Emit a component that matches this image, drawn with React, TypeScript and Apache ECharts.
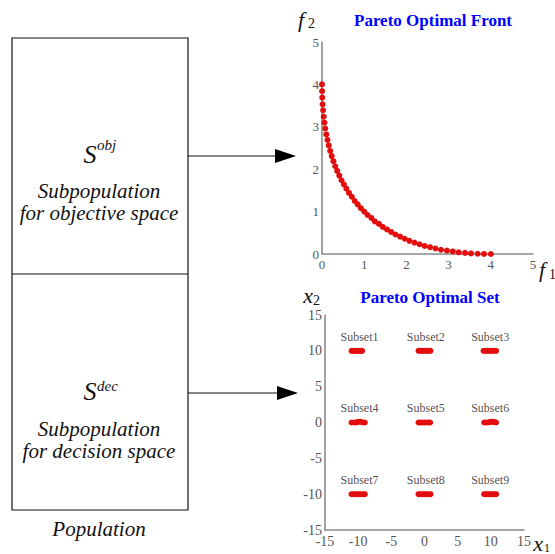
import React, { useEffect, useRef } from "react";
import * as echarts from "echarts";

// Pareto optimal front (objective space)
const frontF1 = [0, 0.002, 0.006, 0.014, 0.026, 0.04, 0.058, 0.078, 0.102, 0.13, 0.16, 0.194, 0.23, 0.27, 0.314, 0.36, 0.41, 0.462, 0.518, 0.578, 0.64, 0.706, 0.774, 0.846, 0.92, 1.0, 1.08, 1.17, 1.25, 1.35, 1.44, 1.54, 1.64, 1.74, 1.85, 1.96, 2.07, 2.19, 2.31, 2.43, 2.56, 2.69, 2.82, 2.96, 3.1, 3.24, 3.39, 3.53, 3.69, 3.84, 4.0];
const frontF2 = [4.0, 3.84, 3.69, 3.53, 3.39, 3.24, 3.1, 2.96, 2.82, 2.69, 2.56, 2.43, 2.31, 2.19, 2.07, 1.96, 1.85, 1.74, 1.64, 1.54, 1.44, 1.35, 1.25, 1.17, 1.08, 1.0, 0.92, 0.85, 0.77, 0.71, 0.64, 0.58, 0.52, 0.46, 0.41, 0.36, 0.31, 0.27, 0.23, 0.19, 0.16, 0.13, 0.1, 0.08, 0.06, 0.04, 0.026, 0.014, 0.006, 0.002, 0];

// Pareto optimal set (decision space), nine subsets
const subsetNames = ["Subset1", "Subset2", "Subset3", "Subset4", "Subset5", "Subset6", "Subset7", "Subset8", "Subset9"];
const subsetLabelX = [-9.8, 0.2, 9.9, -9.8, 0.2, 9.9, -9.8, 0.2, 9.9];
const subsetLabelY = [12, 12, 12, 2, 2, 2, -8, -8, -8];
const subsetX = [
  [-11.0, -10.7, -10.4, -10.2, -9.9, -9.6, -9.4],
  [-0.9, -0.6, -0.3, 0, 0.3, 0.6, 0.9],
  [8.9, 9.2, 9.5, 9.8, 10.1, 10.4, 10.8],
  [-11.0, -10.6, -10.3, -10.0, -9.6, -9.3, -9.0],
  [-0.9, -0.6, -0.3, 0, 0.3, 0.6, 0.85],
  [9.0, 9.3, 9.6, 9.9, 10.2, 10.5, 10.8],
  [-11.0, -10.7, -10.3, -10.0, -9.7, -9.3, -9.0],
  [-0.9, -0.6, -0.3, 0, 0.3, 0.6, 0.9],
  [9.0, 9.3, 9.6, 9.9, 10.2, 10.5, 10.8],
];
const subsetY = [
  [10, 10, 10, 10, 10, 10, 10],
  [10, 10, 10, 10, 10, 10, 10],
  [10, 10, 10, 10, 10, 10, 10],
  [0, 0, 0, 0.1, 0.1, 0, 0],
  [0, 0, 0, 0, 0, 0, 0],
  [0, 0, 0, 0.1, 0.1, 0.1, 0],
  [-10, -10, -10, -10, -10, -10, -10],
  [-10, -10, -10, -10, -10, -10, -10],
  [-10, -10, -10, -10, -10, -10, -10],
];

const SERIF = "'Times New Roman', 'Liberation Serif', Times, 'DejaVu Serif', serif";
const AXIS = "#8a8a8a";
const TICK = "#555";
const RED = "#e30d0d";

function axisCommon(gridIndex: number, min: number, max: number, interval: number, fs: number, isY: boolean) {
  return {
    type: "value",
    gridIndex,
    min,
    max,
    interval,
    axisLine: { show: true, onZero: false, lineStyle: { color: AXIS, width: 1.6 } },
    axisTick: { show: false },
    splitLine: { show: false },
    axisLabel: {
      color: TICK,
      fontFamily: SERIF,
      fontSize: fs,
      margin: isY ? 3 : 4,
    },
  };
}

function txt(text: string, x: number, y: number, size: number, opts: any = {}) {
  return {
    type: "text",
    x,
    y,
    style: {
      text,
      fontFamily: SERIF,
      fontSize: size,
      fontStyle: opts.italic ? "italic" : "normal",
      fontWeight: opts.bold ? "bold" : "normal",
      fill: opts.fill || "#111",
      textAlign: opts.align || "center",
      textVerticalAlign: "middle",
    },
  };
}

export default function App() {
  const ref = useRef<HTMLDivElement>(null);
  useEffect(() => {
    document.body.style.margin = "0";
    const chart = echarts.init(ref.current!, null, { renderer: "svg" });

    const setData: number[][] = [];
    subsetX.forEach((xs, i) => xs.forEach((x, j) => setData.push([x, subsetY[i][j]])));
    const labelData = subsetNames.map((n, i) => ({ name: n, value: [subsetLabelX[i], subsetLabelY[i]] }));
    const I = { italic: true };

    chart.setOption({
      animation: false,
      backgroundColor: "#fff",
      grid: [
        { left: 322, top: 42, width: 211, height: 212 },
        { left: 325, top: 315, width: 199, height: 215 },
      ],
      xAxis: [axisCommon(0, 0, 5, 1, 13, false), axisCommon(1, -15, 15, 5, 14, false)],
      yAxis: [axisCommon(0, 0, 5, 1, 13, true), axisCommon(1, -15, 15, 5, 14, true)],
      series: [
        {
          type: "scatter",
          xAxisIndex: 0,
          yAxisIndex: 0,
          symbolSize: 6,
          itemStyle: { color: RED, opacity: 1 },
          data: frontF1.map((v, i) => [v, frontF2[i]]),
        },
        {
          type: "scatter",
          xAxisIndex: 1,
          yAxisIndex: 1,
          symbolSize: 6,
          itemStyle: { color: RED, opacity: 1 },
          data: setData,
        },
        {
          type: "scatter",
          xAxisIndex: 1,
          yAxisIndex: 1,
          symbolSize: 0,
          silent: true,
          label: {
            show: true,
            position: "inside",
            formatter: (p: any) => p.name,
            color: "#222",
            fontFamily: SERIF,
            fontSize: 12,
          },
          data: labelData,
        },
      ],
      graphic: [
        {
          type: "rect",
          shape: { x: 12, y: 38, width: 176, height: 472 },
          style: { fill: "none", stroke: "#111", lineWidth: 1.2 },
        },
        {
          type: "line",
          shape: { x1: 12, y1: 274, x2: 188, y2: 274 },
          style: { stroke: "#111", lineWidth: 1.2 },
        },
        {
          type: "line",
          shape: { x1: 188, y1: 156, x2: 278, y2: 156 },
          style: { stroke: "#111", lineWidth: 1.2 },
        },
        {
          type: "polygon",
          shape: { points: [[275, 149], [296, 156], [275, 163]] },
          style: { fill: "#000" },
        },
        {
          type: "line",
          shape: { x1: 188, y1: 393, x2: 280, y2: 393 },
          style: { stroke: "#111", lineWidth: 1.2 },
        },
        {
          type: "polygon",
          shape: { points: [[277, 386], [298, 393], [277, 400]] },
          style: { fill: "#000" },
        },
        txt("S", 90, 154, 26, I),
        txt("obj", 97, 145, 15, { italic: true, align: "left" }),
        txt("Subpopulation", 99, 191, 21, I),
        txt("for objective space", 99, 213, 21, I),
        txt("S", 90, 391, 26, I),
        txt("dec", 97, 386, 15, { italic: true, align: "left" }),
        txt("Subpopulation", 99, 429, 21, I),
        txt("for decision space", 99, 451, 21, I),
        txt("Population", 99, 529, 21, I),
        txt("Pareto Optimal Front", 433, 20, 17, { bold: true, fill: "#0000ff" }),
        txt("Pareto Optimal Set", 430, 297, 17, { bold: true, fill: "#0000ff" }),
        txt("f", 301, 19, 22, I),
        txt("2", 308, 23, 14, { align: "left" }),
        txt("f", 542, 269, 22, I),
        txt("1", 549, 274, 14, { align: "left" }),
        txt("x", 308, 295, 22, I),
        txt("2", 313, 300, 14, { align: "left" }),
        txt("x", 538, 543, 22, I),
        txt("1", 544, 548, 12, { align: "left" }),
      ],
    });
    return () => chart.dispose();
  }, []);
  return <div ref={ref} style={{ width: 555, height: 554 }} />;
}
